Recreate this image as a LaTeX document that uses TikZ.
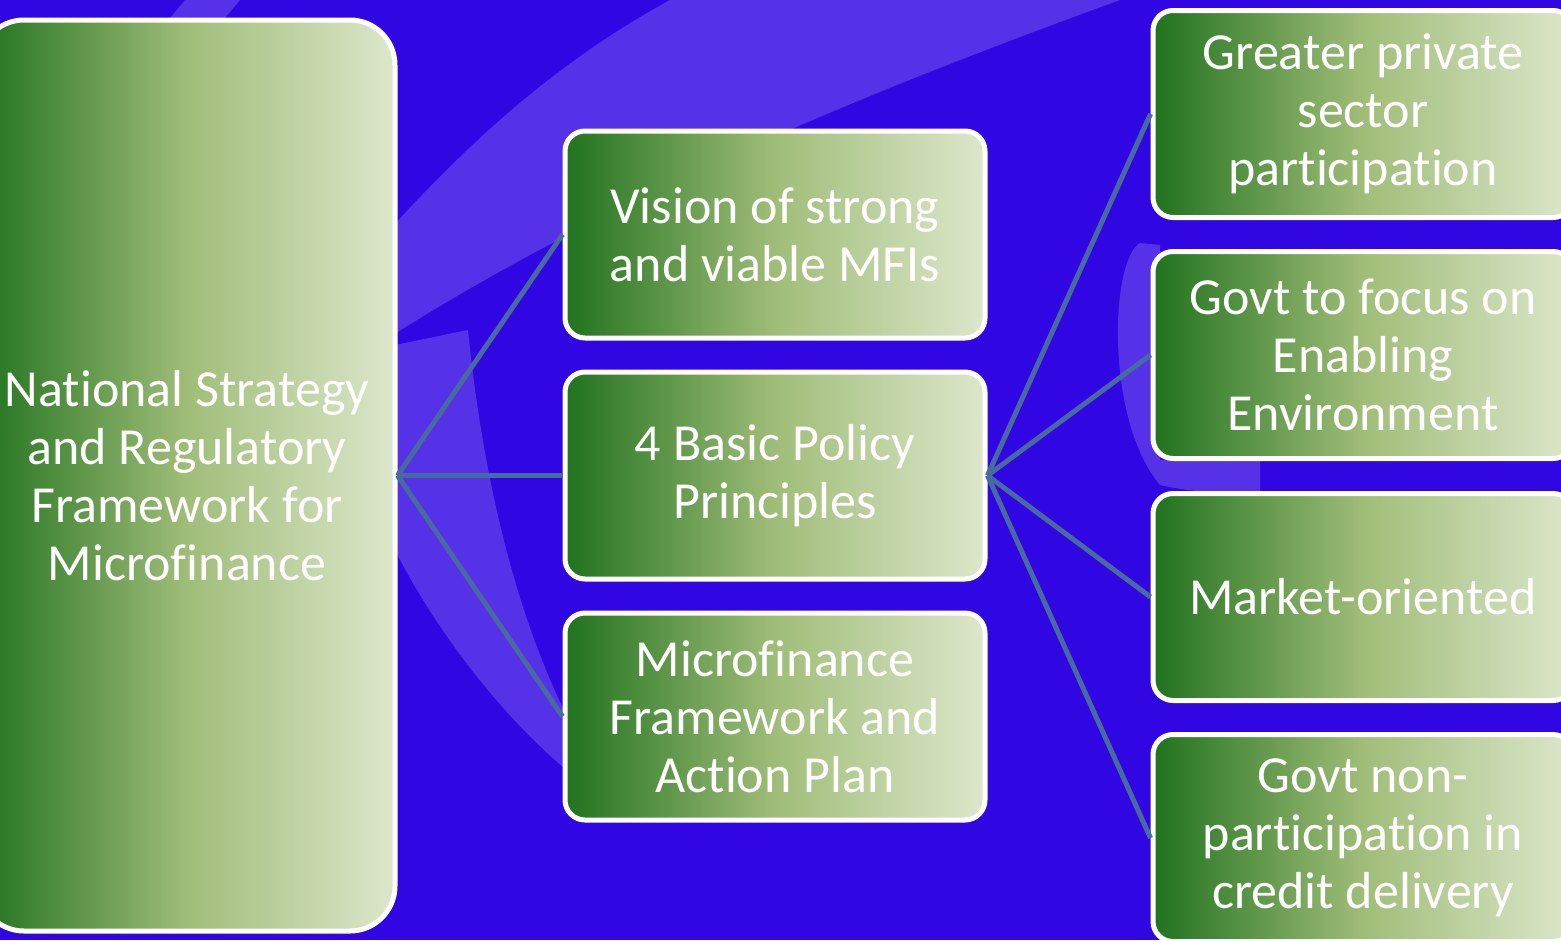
\documentclass[tikz,border=0pt]{standalone}
\usepackage{fontspec}
\setmainfont[Ligatures=CommonOff]{Carlito}
\definecolor{bgblue}{RGB}{48,6,227}
\definecolor{swoosh}{RGB}{85,49,232}
\definecolor{linkblue}{RGB}{72,106,158}
\definecolor{gdark}{RGB}{32,114,30}
\definecolor{gmid}{RGB}{160,189,120}
\definecolor{glight}{RGB}{221,231,203}
\tikzset{
	box/.style={draw=white, line width=0.5mm, rounded corners=2mm,
		left color=gdark, right color=glight, middle color=gmid,
		text=white, align=center, inner sep=0pt,
		font=\fontsize{14.8}{16.5}\selectfont,
		minimum width=42mm, minimum height=20.7mm},
	bigbox/.style={box, rounded corners=4.5mm, minimum width=41.6mm, minimum height=91.1mm},
	link/.style={draw=linkblue, line width=0.5mm}
}

\begin{document}
\begin{tikzpicture}[x=0.1mm,y=-0.1mm]
			\path[use as bounding box] (0,0) rectangle (1561,940);
			\clip (0,0) rectangle (1561,940);
			\fill[bgblue] (0,0) rectangle (1561,940);
			\fill[swoosh] (385,235) .. controls (470,140) and (560,60) .. (670,0) -- (1120,0) .. controls (900,80) and (620,190) .. (385,340) -- cycle;
			\draw[bgblue, line width=0.4mm] (400,338) -- (547,282);
			\fill[swoosh] (395,345) -- (468,330) .. controls (480,450) and (510,620) .. (585,750) -- (585,785) .. controls (500,720) and (430,620) .. (395,550) -- cycle;
			\fill[swoosh] (1160,245) -- (1140,243) .. controls (1110,260) and (1105,420) .. (1160,485) .. controls (1190,492) and (1230,495) .. (1260,492) -- (1260,460) -- (1160,460) -- cycle;
			\fill[swoosh] (170,18) -- (185,0) -- (240,0) -- (225,18) -- cycle;
			\node[bigbox] (nsrf) at (187,475.5) {National Strategy\\and Regulatory\\Framework for\\Microfinance};
			\node[box] (vision) at (775,234.5) {Vision of strong\\and viable MFIs};
			\node[box] (principles) at (775,475.5) {4 Basic Policy\\Principles};
			\node[box] (plan) at (775,716.5) {Microfinance\\Framework and\\Action Plan};
			\node[box] (private) at (1363,114) {Greater private\\sector\\participation};
			\node[box] (enabling) at (1363,355) {Govt to focus on\\Enabling\\Environment};
			\node[box] (market) at (1363,597) {Market-oriented};
			\node[box] (nonpart) at (1363,838) {Govt non-\\participation in\\credit delivery};
			\draw[link] (nsrf.east) -- (vision.west);
			\draw[link] (nsrf.east) -- (principles.west);
			\draw[link] (nsrf.east) -- (plan.west);
			\draw[link] (principles.east) -- (private.west);
			\draw[link] (principles.east) -- (enabling.west);
			\draw[link] (principles.east) -- (market.west);
			\draw[link] (principles.east) -- (nonpart.west);
\end{tikzpicture}
\end{document}
